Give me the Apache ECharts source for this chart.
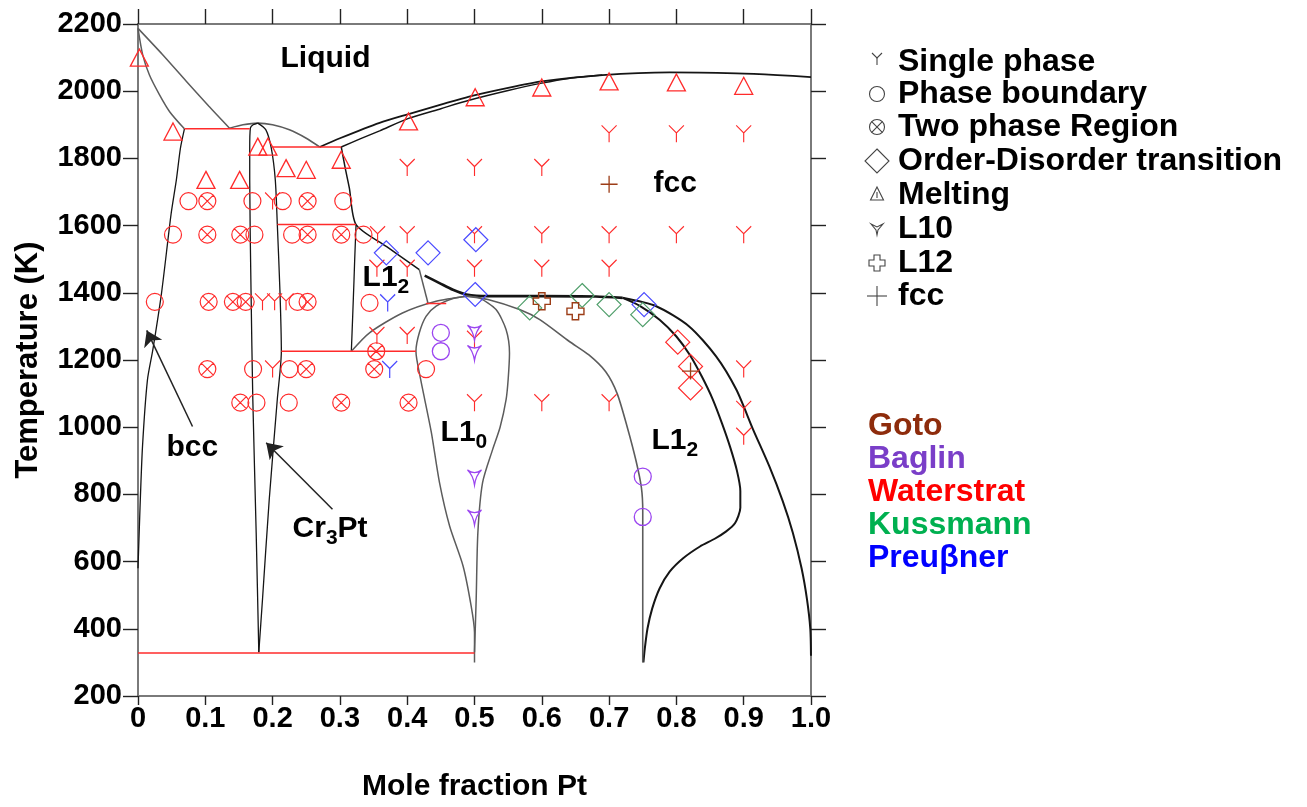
<!DOCTYPE html>
<html>
<head>
<meta charset="utf-8">
<script src="https://cdn.jsdelivr.net/npm/echarts@6/dist/echarts.min.js"></script>
<style>
  html, body { margin: 0; padding: 0; background: #fff; }
  #chart { width: 1307px; height: 807px; }
</style>
</head>
<body>
<div id="chart"></div>
<script>
// ---------- tick labels ----------
const xTickLabels = ['0', '0.1', '0.2', '0.3', '0.4', '0.5', '0.6', '0.7', '0.8', '0.9', '1.0'];
const yTickLabels = ['200', '400', '600', '800', '1000', '1200', '1400', '1600', '1800', '2000', '2200'];

// ---------- phase boundaries: [mole fraction Pt, T (K)] ----------
const liquidusCr = [[0, 2187], [0.036, 2110], [0.072, 2029], [0.105, 1956], [0.136, 1890]];
const solidusBcc = [[0, 2187], [0.007, 2108], [0.017, 2048], [0.032, 1989], [0.047, 1939], [0.069, 1888]];
const liquidusCr3Pt = [[0.136, 1890], [0.156, 1900], [0.178, 1905], [0.2, 1900], [0.225, 1885], [0.25, 1860], [0.27, 1834]];
const cr3PtLeft = [[0.178, 1905], [0.171, 1900], [0.167, 1890], [0.166, 1830], [0.166, 1736], [0.168, 1400], [0.1706, 1083], [0.1756, 686], [0.1795, 330]];
const cr3PtRight = [[0.178, 1905], [0.19, 1885], [0.198, 1831], [0.204, 1736], [0.207, 1603], [0.211, 1400], [0.213, 1226], [0.207, 1083], [0.195, 785], [0.185, 488], [0.1795, 330]];
const bccSolvus = [[0.069, 1888], [0.063, 1830], [0.057, 1736], [0.049, 1632], [0.035, 1400], [0.022, 1230], [0.014, 1140], [0.0067, 943], [0.003, 760], [0, 580]];
const liquidusPt = [[0.27, 1834], [0.3, 1860], [0.359, 1906], [0.402, 1932], [0.45, 1960], [0.492, 1984], [0.55, 2010], [0.6, 2029], [0.69, 2048], [0.79, 2056], [0.889, 2053], [0.95, 2048], [1.0, 2042]];
const solidusPt = [[0.302, 1834], [0.33, 1858], [0.359, 1882], [0.402, 1919], [0.45, 1948], [0.492, 1973], [0.55, 2002], [0.6, 2024], [0.64, 2038], [0.69, 2048]];
const fccL12Cr = [[0.302, 1834], [0.308, 1770], [0.314, 1712], [0.324, 1603], [0.369, 1538], [0.418, 1469]];
const fccL12CrStep = [[0.418, 1469], [0.431, 1368]];
const l12CrLeft = [[0.324, 1603], [0.322, 1500], [0.321, 1440], [0.319, 1330], [0.317, 1226]];
const l10L12Cr = [[0.317, 1226], [0.344, 1281], [0.393, 1340], [0.443, 1375], [0.488, 1390]];
const orderDisorder = [[0.426, 1451], [0.448, 1429], [0.468, 1409], [0.488, 1395], [0.52, 1390], [0.6, 1390], [0.68, 1389], [0.72, 1385]];
const fccInner = [[0.72, 1385], [0.745, 1362], [0.775, 1320], [0.8, 1270], [0.82, 1215], [0.838, 1150], [0.854, 1083], [0.868, 1010], [0.88, 940], [0.89, 870], [0.895, 810], [0.895, 760], [0.887, 714], [0.874, 690], [0.857, 668], [0.835, 645], [0.81, 610], [0.79, 570], [0.775, 520], [0.764, 460], [0.757, 400], [0.753, 340], [0.751, 300]];
const fccOuter = [[0.72, 1385], [0.77, 1360], [0.819, 1300], [0.859, 1211], [0.889, 1112], [0.914, 993], [0.938, 884], [0.958, 780], [0.973, 686], [0.986, 580], [0.994, 488], [0.999, 399], [1.0, 320]];
const l12PtLeft = [[0.488, 1390], [0.52, 1380], [0.567, 1350], [0.597, 1320], [0.641, 1255], [0.67, 1215], [0.695, 1165], [0.712, 1100], [0.727, 1000], [0.74, 900], [0.748, 820], [0.75, 750], [0.75, 300]];
const l10Left = [[0.488, 1390], [0.468, 1383], [0.443, 1360], [0.428, 1330], [0.418, 1281], [0.413, 1226], [0.42, 1142], [0.426, 1083], [0.436, 983], [0.448, 835], [0.463, 706], [0.483, 587], [0.495, 468], [0.5, 389], [0.5, 300]];
const l10Right = [[0.488, 1390], [0.507, 1385], [0.532, 1350], [0.547, 1290], [0.552, 1221], [0.55, 1142], [0.547, 1083], [0.538, 1000], [0.527, 934], [0.512, 835], [0.505, 686], [0.5025, 488], [0.5, 330]];

// invariant (horizontal) lines
const eutecticBcc = [[0.069, 1888], [0.166, 1888]];
const peritectic1834 = [[0.2, 1834], [0.302, 1834]];
const peritectic1603 = [[0.207, 1603], [0.324, 1603]];
const eutectoid1226 = [[0.213, 1226], [0.413, 1226]];
const short1368 = [[0.428, 1368], [0.458, 1368]];
const base328 = [[0, 328], [0.5, 328]];

// ---------- experimental points: [mole fraction Pt, T (K)] ----------
const waterstratSingle = [
  [0.2, 1673],
  [0.185, 1373], [0.203, 1373], [0.22, 1373],
  [0.2, 1173],
  [0.7, 1873], [0.8, 1873], [0.9, 1873],
  [0.4, 1773], [0.5, 1773], [0.6, 1773],
  [0.356, 1573], [0.4, 1573], [0.5, 1573], [0.6, 1573], [0.7, 1573], [0.8, 1573], [0.9, 1573],
  [0.355, 1473], [0.4, 1473], [0.5, 1473], [0.6, 1473], [0.7, 1473],
  [0.355, 1273], [0.4, 1273], [0.5, 1262],
  [0.5, 1073], [0.6, 1073], [0.7, 1073],
  [0.9, 1173], [0.9, 1053], [0.9, 973]
];
const waterstratBoundary = [
  [0.075, 1673], [0.17, 1673], [0.215, 1673], [0.305, 1673],
  [0.052, 1573], [0.173, 1573], [0.229, 1573], [0.335, 1573],
  [0.025, 1373], [0.237, 1373], [0.344, 1370],
  [0.171, 1173], [0.225, 1173], [0.428, 1173],
  [0.176, 1073], [0.224, 1073]
];
const waterstratTwoPhase = [
  [0.103, 1673], [0.252, 1673],
  [0.103, 1573], [0.152, 1573], [0.252, 1573], [0.302, 1573],
  [0.105, 1373], [0.141, 1373], [0.16, 1373], [0.252, 1373],
  [0.354, 1226],
  [0.103, 1173], [0.25, 1173], [0.351, 1173],
  [0.152, 1073], [0.302, 1073], [0.402, 1073]
];
const waterstratMelting = [
  [0.002, 2100], [0.052, 1880], [0.101, 1736], [0.151, 1736], [0.178, 1835], [0.193, 1835],
  [0.22, 1771], [0.25, 1766], [0.302, 1796], [0.402, 1910], [0.501, 1982], [0.6, 2011],
  [0.7, 2029], [0.8, 2026], [0.9, 2016]
];
const waterstratOrder = [[0.802, 1253], [0.821, 1181], [0.821, 1117]];
const preussnerSingle = [[0.371, 1370], [0.374, 1172]];
const preussnerOrder = [[0.369, 1519], [0.431, 1519], [0.502, 1558], [0.501, 1395], [0.752, 1365]];
const kussmannOrder = [[0.582, 1355], [0.66, 1392], [0.7, 1365], [0.75, 1335]];
const gotoL12 = [[0.6, 1375], [0.65, 1345]];
const gotoFcc = [[0.7, 1723], [0.821, 1167]];
const baglinBoundary = [[0.45, 1281], [0.45, 1226], [0.75, 853], [0.75, 733]];
const baglinL10 = [[0.5, 1281], [0.5, 1221], [0.5, 850], [0.5, 731]];

// ---------- texts ----------
const legendLabels = ['Single phase', 'Phase boundary', 'Two phase Region', 'Order-Disorder transition', 'Melting', 'L10', 'L12', 'fcc'];
const sourceNames = ['Goto', 'Baglin', 'Waterstrat', 'Kussmann', 'Preuβner'];
const regionLabels = [
  { text: '{m|Liquid}', at: [0.2117, 2096] },
  { text: '{m|fcc}', at: [0.766, 1724] },
  { text: '{m|bcc}', at: [0.0423, 940] },
  { text: '{m|L1}{s|2}', at: [0.3336, 1444] },
  { text: '{m|L1}{s|0}', at: [0.4495, 985] },
  { text: '{m|L1}{s|2}', at: [0.763, 959] },
  { text: '{m|Cr}{s|3}{m|Pt}', at: [0.2296, 699] }
];
const arrows = [
  [[0.081, 1002], [0.013, 1288]],
  [[0.289, 756], [0.1905, 954]]
];

// ---------- styles ----------
const FONT = '"Liberation Sans", Arial, Helvetica, sans-serif';
const RED = '#ff2b2b';
const BLUE = '#4a4aff';
const GREEN = '#4f9e6a';
const BROWN = '#9c3d17';
const PURPLE = '#9b45f0';
const DARK = '#151515';
const GRAY = '#5c5c5c';

const SYM = {
  single: 'path://M0,0 L8,8 L16,0 M8,8 L8,18',
  boundary: 'circle',
  twoPhase: 'path://M0,8 A8,8 0 1,0 16,8 A8,8 0 1,0 0,8 Z M2.34,2.34 L13.66,13.66 M13.66,2.34 L2.34,13.66',
  order: 'diamond',
  melting: 'triangle',
  l10: 'path://M0,0 Q7,5 14,0 Q8.5,5 7,15 Q5.5,5 0,0 Z',
  l12: 'path://M5,0 L11,0 L11,5 L16,5 L16,11 L11,11 L11,16 L5,16 L5,11 L0,11 L0,5 L5,5 Z',
  fcc: 'path://M8,0 L8,16 M0,8 L16,8'
};

function curve(data, color, width, z) {
  return {
    type: 'line', data: data, symbol: 'none', showSymbol: false, smooth: 0.25,
    lineStyle: { color: color, width: width }, z: z || 2, silent: true, animation: false
  };
}
function marks(data, symbol, size, color, width, z) {
  return {
    type: 'scatter', data: data, symbol: symbol, symbolSize: size,
    itemStyle: { color: 'transparent', borderColor: color, borderWidth: width, opacity: 1 },
    z: z || 5, silent: true, animation: false
  };
}

const series = [
  curve(liquidusCr, GRAY, 1.5),
  curve(solidusBcc, GRAY, 1.5),
  curve(liquidusCr3Pt, GRAY, 1.6),
  curve(cr3PtLeft, DARK, 1.3),
  curve(cr3PtRight, DARK, 1.3),
  curve(bccSolvus, DARK, 1.3),
  curve(liquidusPt, DARK, 1.8),
  curve(solidusPt, DARK, 1.5),
  curve(fccL12Cr, DARK, 1.5),
  curve(fccL12CrStep, GRAY, 1.5),
  curve(l12CrLeft, DARK, 1.3),
  curve(l10L12Cr, GRAY, 1.5),
  curve(orderDisorder, DARK, 2.6),
  curve(fccInner, DARK, 2),
  curve(fccOuter, DARK, 2),
  curve(l12PtLeft, GRAY, 1.6),
  curve(l10Left, GRAY, 1.5),
  curve(l10Right, GRAY, 1.5),
  curve(eutecticBcc, RED, 1.5, 3),
  curve(peritectic1834, RED, 1.5, 3),
  curve(peritectic1603, RED, 1.5, 3),
  curve(eutectoid1226, RED, 1.5, 3),
  curve(short1368, RED, 1.5, 3),
  curve(base328, RED, 1.5, 3),

  marks(waterstratSingle, SYM.single, [15, 17], RED, 1.2, 4),
  marks(waterstratBoundary, SYM.boundary, 17, RED, 1.2),
  marks(waterstratTwoPhase, SYM.twoPhase, 17, RED, 1.2),
  marks(waterstratMelting, SYM.melting, [18, 17], RED, 1.3),
  marks(waterstratOrder, SYM.order, 24, RED, 1.2),
  marks(preussnerSingle, SYM.single, [15, 17], BLUE, 1.3),
  marks(preussnerOrder, SYM.order, 24, BLUE, 1.2),
  marks(kussmannOrder, SYM.order, 24, GREEN, 1.2),
  marks(gotoL12, SYM.l12, 17, BROWN, 1.4),
  marks(gotoFcc, SYM.fcc, 17, BROWN, 1.3),
  marks(baglinBoundary, SYM.boundary, 17, PURPLE, 1.3),
  marks(baglinL10, SYM.l10, [14, 15], PURPLE, 1.3, 6),

  {
    type: 'lines', coordinateSystem: 'cartesian2d', silent: true, animation: false, z: 4,
    symbol: ['none', 'arrow'], symbolSize: 15,
    lineStyle: { color: '#222', width: 1.5, opacity: 1, curveness: 0 },
    data: arrows.map(a => ({ coords: a }))
  },
  {
    type: 'scatter', silent: true, animation: false, z: 7,
    symbolSize: 0.1, itemStyle: { color: 'transparent' },
    data: regionLabels.map(r => ({ name: r.text, value: r.at })),
    label: {
      show: true, position: 'right', distance: 0, color: '#000', opacity: 1,
      fontFamily: FONT, fontSize: 30, fontWeight: 'bold',
      textBorderWidth: 0,
      formatter: p => p.name,
      rich: {
        m: { fontFamily: FONT, fontSize: 30, fontWeight: 'bold', color: '#000', lineHeight: 40, textBorderWidth: 0 },
        s: { fontFamily: FONT, fontSize: 21, fontWeight: 'bold', color: '#000', lineHeight: 21, verticalAlign: 'bottom', textBorderWidth: 0 }
      }
    }
  }
];

// ---------- legend and source captions drawn as graphics ----------
const graphics = [];
const legendRows = [62, 94, 127, 161, 195, 229, 263, 296];
const iconStroke = { stroke: '#444', fill: 'none', lineWidth: 1.1 };
function icon(i, cx, cy) {
  const s = iconStroke;
  switch (i) {
    case 0: return [
      { type: 'polyline', shape: { points: [[cx - 5, cy - 9], [cx, cy - 4], [cx + 5, cy - 9]] }, style: s },
      { type: 'line', shape: { x1: cx, y1: cy - 4, x2: cx, y2: cy + 3 }, style: s }];
    case 1: return [{ type: 'circle', shape: { cx: cx, cy: cy, r: 7.5 }, style: s }];
    case 2: return [
      { type: 'circle', shape: { cx: cx, cy: cy, r: 7.5 }, style: s },
      { type: 'line', shape: { x1: cx - 5.3, y1: cy - 5.3, x2: cx + 5.3, y2: cy + 5.3 }, style: s },
      { type: 'line', shape: { x1: cx + 5.3, y1: cy - 5.3, x2: cx - 5.3, y2: cy + 5.3 }, style: s }];
    case 3: return [{ type: 'polygon', shape: { points: [[cx, cy - 12], [cx + 12, cy], [cx, cy + 12], [cx - 12, cy]] }, style: s }];
    case 4: return [
      { type: 'polygon', shape: { points: [[cx, cy - 8], [cx + 6.5, cy + 5], [cx - 6.5, cy + 5]] }, style: s },
      { type: 'line', shape: { x1: cx, y1: cy - 3, x2: cx, y2: cy + 3 }, style: s }];
    case 5: return [{ type: 'polygon', shape: { points: [[cx - 6, cy - 5], [cx, cy - 2], [cx + 6, cy - 5], [cx + 1, cy + 1], [cx, cy + 6], [cx - 1, cy + 1]] }, style: s }];
    case 6: return [{ type: 'polygon', shape: { points: [[cx - 3, cy - 8], [cx + 3, cy - 8], [cx + 3, cy - 3], [cx + 8, cy - 3], [cx + 8, cy + 3], [cx + 3, cy + 3], [cx + 3, cy + 8], [cx - 3, cy + 8], [cx - 3, cy + 3], [cx - 8, cy + 3], [cx - 8, cy - 3], [cx - 3, cy - 3]] }, style: s }];
    default: return [
      { type: 'line', shape: { x1: cx - 10, y1: cy, x2: cx + 10, y2: cy }, style: s },
      { type: 'line', shape: { x1: cx, y1: cy - 10, x2: cx, y2: cy + 10 }, style: s }];
  }
}
legendLabels.forEach((txt, i) => {
  const cy = legendRows[i];
  icon(i, 877, cy).forEach(e => graphics.push(e));
  graphics.push({
    type: 'text', x: 898, y: cy,
    style: { text: txt, fill: '#000', font: 'bold 32px ' + FONT, textVerticalAlign: 'middle', verticalAlign: 'middle' }
  });
});
const sourceColors = ['#8e2c0c', '#7a3ec8', '#ff0000', '#00b050', '#0000ff'];
sourceNames.forEach((txt, i) => {
  graphics.push({
    type: 'text', x: 868, y: 426 + i * 33,
    style: { text: txt, fill: sourceColors[i], font: 'bold 32px ' + FONT, textVerticalAlign: 'middle', verticalAlign: 'middle' }
  });
});

// ---------- axes ----------
const axisLineStyle = { color: '#7a7a7a', width: 2 };
const tickStyle = { color: '#222', width: 1.4 };
const labelFont = { fontFamily: FONT, fontSize: 29, fontWeight: 'bold', color: '#000' };

const option = {
  animation: false,
  backgroundColor: '#fff',
  grid: { left: 138, right: 496, top: 24, bottom: 110, containLabel: false },
  xAxis: [
    {
      type: 'value', min: 0, max: 1, interval: 0.1, position: 'bottom',
      axisLine: { onZero: false, lineStyle: axisLineStyle },
      axisTick: { inside: false, length: 9, lineStyle: tickStyle },
      axisLabel: Object.assign({ margin: 8, formatter: v => xTickLabels[Math.round(v * 10)] }, labelFont),
      splitLine: { show: false },
      name: 'Mole fraction Pt', nameLocation: 'middle', nameGap: 76,
      nameTextStyle: { fontFamily: FONT, fontSize: 30, fontWeight: 'bold', color: '#000' }
    },
    {
      type: 'value', min: 0, max: 1, interval: 0.1, position: 'top',
      axisLine: { onZero: false, lineStyle: axisLineStyle },
      axisTick: { inside: false, length: 15, lineStyle: tickStyle },
      axisLabel: { show: false }, splitLine: { show: false }
    }
  ],
  yAxis: [
    {
      type: 'value', min: 200, max: 2200, interval: 200, position: 'left',
      axisLine: { onZero: false, lineStyle: axisLineStyle },
      axisTick: { inside: false, length: 15, lineStyle: tickStyle },
      axisLabel: Object.assign({ margin: 16, formatter: v => yTickLabels[Math.round((v - 200) / 200)] }, labelFont),
      splitLine: { show: false },
      name: 'Temperature (K)', nameLocation: 'middle', nameGap: 94, nameRotate: 90,
      nameTextStyle: { fontFamily: FONT, fontSize: 31, fontWeight: 'bold', color: '#000' }
    },
    {
      type: 'value', min: 200, max: 2200, interval: 200, position: 'right',
      axisLine: { onZero: false, lineStyle: axisLineStyle },
      axisTick: { inside: false, length: 15, lineStyle: tickStyle },
      axisLabel: { show: false }, splitLine: { show: false }
    }
  ],
  graphic: graphics,
  series: series
};

const chart = echarts.init(document.getElementById('chart'), null, { renderer: 'canvas' });
chart.setOption(option);
</script>
</body>
</html>
